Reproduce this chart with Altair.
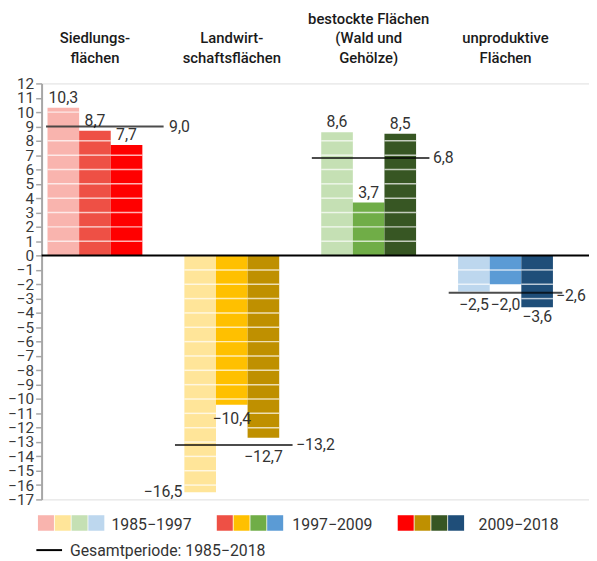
import math
import altair as alt
import pandas as pd

# ---------------- data ----------------
groups = [
    "Siedlungs-\nflächen",
    "Landwirt-\nschaftsflächen",
    "bestockte Flächen\n(Wald und\nGehölze)",
    "unproduktive\nFlächen",
]
periods = ["1985−1997", "1997−2009", "2009−2018"]
siedlung = [10.3, 8.7, 7.7]
landwirtschaft = [-16.5, -10.4, -12.7]
bestockt = [8.6, 3.7, 8.5]
unproduktiv = [-2.5, -2.0, -3.6]
gesamt = [9.0, -13.2, 6.8, -2.6]
gesamt_title = "Gesamtperiode: 1985−2018"
colors = [
    ["#F9B4AE", "#EE5045", "#FF0000"],
    ["#FFE599", "#FFC000", "#BF9000"],
    ["#C5E0B4", "#70AD47", "#375623"],
    ["#BDD7EE", "#5B9BD5", "#1F4E79"],
]
y_ticks = list(range(-17, 13))

series = [siedlung, landwirtschaft, bestockt, unproduktiv]


def fmt(v):
    return f"{v:.1f}".replace(".", ",").replace("-", "−")


bar_rows, seg_rows, keys, key_colors = [], [], [], []
for gi, g in enumerate(groups):
    for pi, p in enumerate(periods):
        v = series[gi][pi]
        key = f"{gi}-{pi}"
        keys.append(key)
        key_colors.append(colors[gi][pi])
        bar_rows.append(dict(group=g, period=p, value=v, key=key, label=fmt(v), gi=gi, pi=pi))
        sgn = 1 if v > 0 else -1
        for k in range(1, math.ceil(abs(v))):
            if k < abs(v):
                seg_rows.append(dict(group=g, period=p, value=sgn * k))
bars_df = pd.DataFrame(bar_rows)
seg_df = pd.DataFrame(seg_rows)
tot_df = pd.DataFrame(dict(group=groups, value=gesamt, label=[fmt(v) for v in gesamt], gi=list(range(4))))
zero_df = pd.DataFrame(dict(value=[0]))

FONT = "Roboto"
TXT = "#333333"

xscale = alt.Scale(paddingInner=0.307, paddingOuter=0.1534, align=0.141)
xaxis = alt.Axis(
    orient="top", title=None, domain=False, ticks=False,
    labelExpr="length(split(datum.label, '\\n')) < 3 ? split('\\n' + datum.label, '\\n') : split(datum.label, '\\n')",
    labelAngle=0, labelOverlap=False,
    labelFont=FONT, labelFontSize=15, labelFontWeight=500, labelColor="#1a1a1a",
    labelLineHeight=20, labelPadding=58, labelLimit=300,
)
xenc = alt.X("group:N", sort=groups, scale=xscale, axis=xaxis)
xoff = alt.XOffset("period:N", sort=periods, scale=alt.Scale(paddingInner=0, paddingOuter=0))
yscale = alt.Scale(domain=[-17, 12], nice=False, zero=False)
yaxis = alt.Axis(
    values=y_ticks, title=None, grid=False, labelOverlap=False, labelBound=False,
    labelFont=FONT, labelFontSize=15.5, labelColor="#3a3a3a", labelPadding=2,
    domainColor="#a6a6a6", domainWidth=2, tickColor="#a6a6a6", tickSize=6, tickWidth=1.5,
    labelExpr="replace(format(datum.value, 'd'), '-', '\u2212')",
)
yenc = alt.Y("value:Q", scale=yscale, axis=yaxis)

base = alt.Chart(bars_df)
bars = base.mark_bar().encode(
    x=xenc, xOffset=xoff, y=yenc, y2=alt.datum(0),
    color=alt.Color("key:N", scale=alt.Scale(domain=keys, range=key_colors), legend=None),
)

segs = alt.Chart(seg_df).mark_tick(orient="horizontal", color="white", size=32, thickness=1.5).encode(
    x=xenc, xOffset=xoff, y=yenc
)

zero = alt.Chart(zero_df).mark_rule(color="black", strokeWidth=2).encode(y=yenc)


def label_layer(filter_expr, **kw):
    return base.transform_filter(filter_expr).mark_text(
        font=FONT, fontSize=16, color=TXT, **kw
    ).encode(x=xenc, xOffset=xoff, y=yenc, text="label:N")


lab_pos = label_layer("datum.value > 0", baseline="middle", dy=-10)
lab_neg = label_layer(
    "datum.value < 0 && datum.value != -12.7 && datum.value != -2.0 && datum.value != -16.5 && datum.value != -3.6",
    baseline="middle", dy=14)
lab_127 = label_layer("datum.value == -12.7", baseline="middle", dy=20)
lab_20 = label_layer("datum.value == -2.0", baseline="middle", dy=21)
lab_36 = label_layer("datum.value == -3.6", baseline="middle", dy=10)
lab_165 = label_layer("datum.value == -16.5", baseline="middle", align="right", dx=-18, dy=0)

tbase = alt.Chart(tot_df)


def total_tick(filter_expr, off, size):
    return tbase.transform_filter(filter_expr).mark_tick(
        orient="horizontal", color="black", size=size, thickness=2, xOffset=off
    ).encode(x=xenc, y=yenc)


def total_label(filter_expr, dx, dy):
    return tbase.transform_filter(filter_expr).mark_text(
        font=FONT, fontSize=16, color=TXT, align="left", baseline="middle", dx=dx, dy=dy
    ).encode(x=xenc, y=yenc, text="label:N")


tt = [
    total_tick("datum.gi == 0", 10, 119),
    total_tick("datum.gi == 1 || datum.gi == 2", 2, 119),
    total_tick("datum.gi == 3", 0, 115),
]
tl = [
    total_label("datum.gi == 0", 75, 1),
    total_label("datum.gi == 1 || datum.gi == 2", 65, 0),
    total_label("datum.gi == 3", 51, 3),
]

# ---------------- manual legend ----------------
leg_layers = []
sw_start = [-3.7, 177.3, 360.4]
lab_start = [70.7, 253.8, 442.2]
LY = 437
legend_src = alt.Chart(zero_df)
for pi, p in enumerate(periods):
    for gi in range(4):
        x0 = sw_start[pi] + gi * 17.0
        leg_layers.append(
            legend_src.mark_rect(color=colors[gi][pi]).encode(
                x=alt.value(x0), x2=alt.value(x0 + 16.2), y=alt.value(LY), y2=alt.value(LY + 15.7)
            )
        )
    leg_layers.append(
        legend_src.mark_text(font=FONT, fontSize=16, color=TXT, align="left", baseline="middle", text=p).encode(
            x=alt.value(lab_start[pi]), y=alt.value(LY + 9.5)
        )
    )
leg_layers.append(
    legend_src.mark_rule(color="black", strokeWidth=2).encode(
        x=alt.value(-5.3), x2=alt.value(20.7), y=alt.value(LY + 35.3)
    )
)
leg_layers.append(
    legend_src.mark_text(font=FONT, fontSize=16, color=TXT, align="left", baseline="middle", text=gesamt_title).encode(
        x=alt.value(28.7), y=alt.value(LY + 36.5)
    )
)

chart = alt.layer(
    bars, segs, zero, lab_pos, lab_neg, lab_127, lab_20, lab_36, lab_165, *tt, *tl, *leg_layers
).properties(
    width=554,
    height=421,
    autosize=alt.AutoSizeParams(type="none"),
    padding={"left": 34, "top": 73, "right": 0, "bottom": 60},
).configure_view(
    fill="#f2f2f2", stroke="#a6a6a6", strokeWidth=2
).configure_axis(
    labelOverlap=False
).configure(background="white")

chart.save("out.html", embed_options={"renderer": "svg", "actions": False})
